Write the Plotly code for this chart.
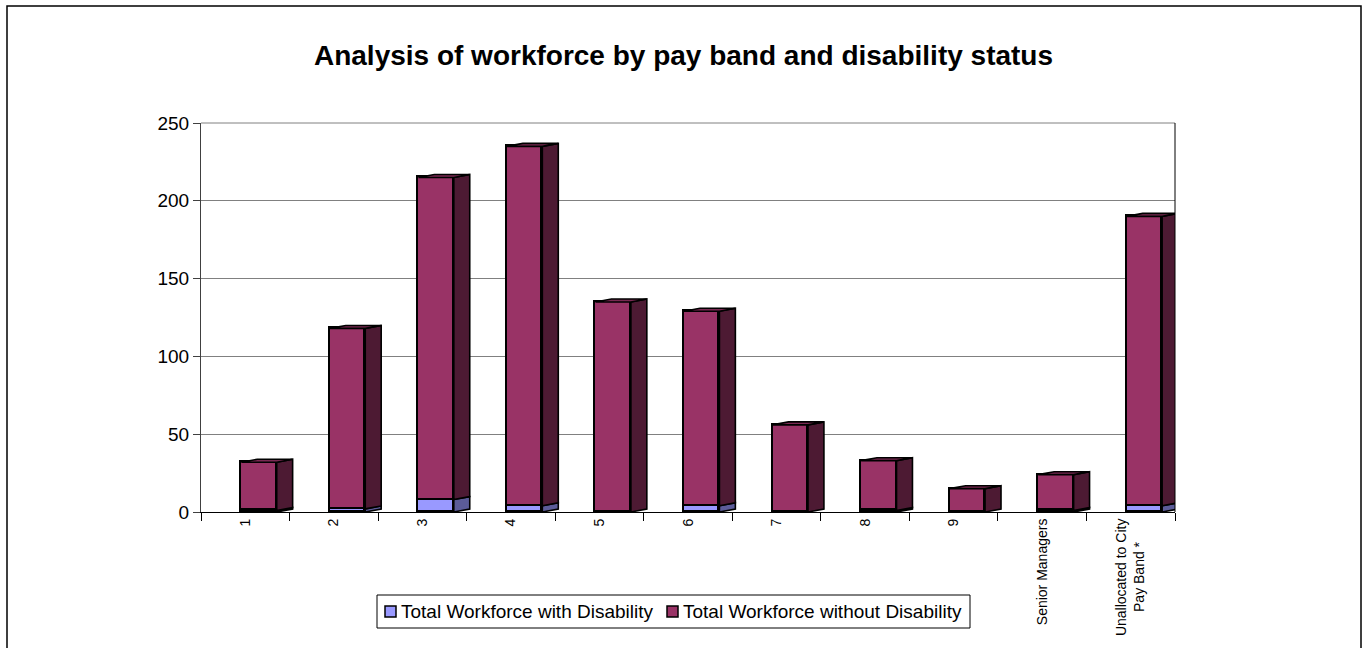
import plotly.graph_objects as go

# Pay bands and headcounts
bands = ["1", "2", "3", "4", "5", "6", "7", "8", "9", "Senior Managers",
         "Unallocated to City<br>Pay Band *\u00a0\u00a0\u00a0\u00a0\u00a0\u00a0"]
with_disability = [1, 2, 8, 4, 0, 4, 0, 1, 0, 1, 4]
total_workforce = [32, 118, 215, 235, 135, 129, 56, 33, 15, 24, 190]
without_disability = [t - d for t, d in zip(total_workforce, with_disability)]

series_names = ["Total Workforce with Disability", "Total Workforce without Disability"]
front_colors = ["#9999FF", "#993366"]
side_colors = ["#5C5C99", "#4D1A33"]
top_colors = ["#7A7ACC", "#7A2952"]

FONT = "Liberation Sans, Arial, sans-serif"

# Geometry of the pseudo-3D columns, in axis units
BAR_W = 0.40      # front face width (fraction of a category)
BAR_SHIFT = 0.155 # front face offset from category centre
DEPTH_X = 0.18    # depth offset to the right
DEPTH_Y = 1.9     # depth offset upwards (value units)

x_pos = list(range(len(bands)))
x_front = [x + BAR_SHIFT for x in x_pos]

fig = go.Figure()

# Front faces (stacked)
for name, vals, col in zip(series_names, [with_disability, without_disability], front_colors):
    fig.add_trace(go.Bar(
        x=x_front, y=vals, width=BAR_W, name=name, showlegend=False,
        marker=dict(color=col, line=dict(color="black", width=1.6)),
    ))

# Side faces computed from the stacked values
bases = [[0] * len(bands), with_disability]
for s, vals in enumerate([with_disability, without_disability]):
    sx, sy = [], []
    for i, v in enumerate(vals):
        if v <= 0:
            continue
        b = bases[s][i]
        t = b + v
        xr = x_front[i] + BAR_W / 2
        sx += [xr, xr + DEPTH_X, xr + DEPTH_X, xr, xr, None]
        sy += [b, b + DEPTH_Y, t + DEPTH_Y, t, b, None]
    fig.add_trace(go.Scatter(
        x=sx, y=sy, mode="lines", fill="toself", fillcolor=side_colors[s],
        line=dict(color="black", width=1.6), showlegend=False, hoverinfo="skip",
    ))

# Top faces of each column
tx, ty = [], []
for i, tot in enumerate(total_workforce):
    xl = x_front[i] - BAR_W / 2
    xr = x_front[i] + BAR_W / 2
    tx += [xl, xr, xr + DEPTH_X, xl + DEPTH_X, xl, None]
    ty += [tot, tot, tot + DEPTH_Y, tot + DEPTH_Y, tot, None]
fig.add_trace(go.Scatter(
    x=tx, y=ty, mode="lines", fill="toself", fillcolor=top_colors[1],
    line=dict(color="black", width=1.6), showlegend=False, hoverinfo="skip",
))

W, H = 1367, 648
L, R, T, B = 201, 192, 123, 136
pw, ph = W - L - R, H - T - B

def px_x(p):
    return (p - L) / pw

def px_y(p):
    return (H - B - p) / ph

fig.update_layout(
    width=W, height=H,
    margin=dict(l=L, r=R, t=T, b=B, autoexpand=False),
    paper_bgcolor="white", plot_bgcolor="white",
    barmode="stack", bargap=0,
    font=dict(family=FONT, color="black", size=16),
    title=dict(
        text="<b>Analysis of workforce by pay band and disability status</b>",
        x=0.5, xanchor="center", y=1 - 55 / H, yanchor="middle",
        font=dict(family=FONT, size=28, color="black"),
    ),
    xaxis=dict(
        range=[-0.5, len(bands) - 0.5],
        tickmode="array", tickvals=x_pos, ticktext=bands,
        tickangle=-90, ticks="", tickfont=dict(size=14),
        showline=True, linecolor="black", linewidth=1,
        showgrid=False, zeroline=False,
        minor=dict(tickmode="array", tickvals=[k - 0.5 for k in range(len(bands) + 1)],
                   ticks="outside", ticklen=8, tickcolor="black", tickwidth=1,
                   showgrid=False),
    ),
    yaxis=dict(
        range=[0, 250], tickmode="linear", tick0=0, dtick=50,
        ticks="outside", ticklen=7, tickcolor="#404040",
        tickfont=dict(size=19),
        showline=True, linecolor="#404040", linewidth=1, mirror=False,
        showgrid=True, gridcolor="#808080", gridwidth=1, zeroline=False,
    ),
    showlegend=False,
)

# Chart frame, top edge and right edge of the plot area
fig.add_shape(type="rect", xref="paper", yref="paper",
              x0=px_x(7), x1=px_x(1361), y0=px_y(700), y1=px_y(6),
              line=dict(color="black", width=1.5), fillcolor="rgba(0,0,0,0)", layer="below")
fig.add_shape(type="line", xref="paper", yref="paper",
              x0=0, x1=1, y0=1, y1=1, line=dict(color="#808080", width=1))
fig.add_shape(type="line", xref="paper", yref="paper",
              x0=1, x1=1, y0=0, y1=1, line=dict(color="black", width=1))

# Legend box with swatches and labels
fig.add_shape(type="rect", xref="paper", yref="paper",
              x0=px_x(377), x1=px_x(970), y0=px_y(628), y1=px_y(595),
              line=dict(color="black", width=1), fillcolor="white")
legend_items = [(385, 400), (667, 682)]
for (sw_x, tx_x), name, col in zip(legend_items, series_names, front_colors):
    fig.add_shape(type="rect", xref="paper", yref="paper",
                  x0=px_x(sw_x), x1=px_x(sw_x + 11), y0=px_y(617), y1=px_y(606),
                  line=dict(color="black", width=1.5), fillcolor=col)
    fig.add_annotation(text=name, xref="paper", yref="paper",
                       x=px_x(tx_x), xanchor="left", y=px_y(611.5), yanchor="middle",
                       showarrow=False, font=dict(family=FONT, size=19, color="black"),
                       borderpad=0)

fig.write_html("out.html")
